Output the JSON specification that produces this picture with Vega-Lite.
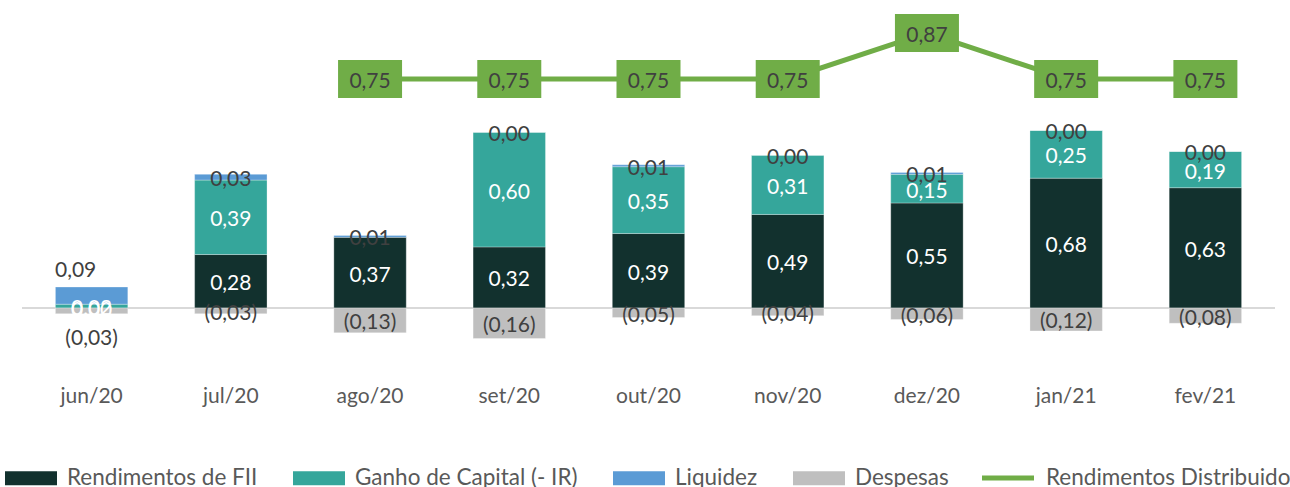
{
  "$schema": "https://vega.github.io/schema/vega-lite/v6.json",
  "width": 1253,
  "height": 384,
  "padding": {"left": 5, "top": 0, "right": 0, "bottom": 0},
  "background": "white",
  "config": {
    "view": {"stroke": null},
    "font": "Lato",
    "locale": {"number": {"decimal": ",", "thousands": ".", "grouping": [3], "currency": ["R$", ""]}}
  },
  "data": {
    "values": [
      {"mes": "jun/20", "serie": "Rendimentos de FII", "ordem": 1, "valor": 0.00},
      {"mes": "jun/20", "serie": "Ganho de Capital (- IR)", "ordem": 2, "valor": 0.02},
      {"mes": "jun/20", "serie": "Liquidez", "ordem": 3, "valor": 0.09},
      {"mes": "jun/20", "serie": "Despesas", "ordem": 4, "valor": -0.03},
      {"mes": "jul/20", "serie": "Rendimentos de FII", "ordem": 1, "valor": 0.28},
      {"mes": "jul/20", "serie": "Ganho de Capital (- IR)", "ordem": 2, "valor": 0.39},
      {"mes": "jul/20", "serie": "Liquidez", "ordem": 3, "valor": 0.03},
      {"mes": "jul/20", "serie": "Despesas", "ordem": 4, "valor": -0.03},
      {"mes": "ago/20", "serie": "Rendimentos de FII", "ordem": 1, "valor": 0.37},
      {"mes": "ago/20", "serie": "Liquidez", "ordem": 3, "valor": 0.01},
      {"mes": "ago/20", "serie": "Despesas", "ordem": 4, "valor": -0.13},
      {"mes": "set/20", "serie": "Rendimentos de FII", "ordem": 1, "valor": 0.32},
      {"mes": "set/20", "serie": "Ganho de Capital (- IR)", "ordem": 2, "valor": 0.60},
      {"mes": "set/20", "serie": "Liquidez", "ordem": 3, "valor": 0.00},
      {"mes": "set/20", "serie": "Despesas", "ordem": 4, "valor": -0.16},
      {"mes": "out/20", "serie": "Rendimentos de FII", "ordem": 1, "valor": 0.39},
      {"mes": "out/20", "serie": "Ganho de Capital (- IR)", "ordem": 2, "valor": 0.35},
      {"mes": "out/20", "serie": "Liquidez", "ordem": 3, "valor": 0.01},
      {"mes": "out/20", "serie": "Despesas", "ordem": 4, "valor": -0.05},
      {"mes": "nov/20", "serie": "Rendimentos de FII", "ordem": 1, "valor": 0.49},
      {"mes": "nov/20", "serie": "Ganho de Capital (- IR)", "ordem": 2, "valor": 0.31},
      {"mes": "nov/20", "serie": "Liquidez", "ordem": 3, "valor": 0.00},
      {"mes": "nov/20", "serie": "Despesas", "ordem": 4, "valor": -0.04},
      {"mes": "dez/20", "serie": "Rendimentos de FII", "ordem": 1, "valor": 0.55},
      {"mes": "dez/20", "serie": "Ganho de Capital (- IR)", "ordem": 2, "valor": 0.15},
      {"mes": "dez/20", "serie": "Liquidez", "ordem": 3, "valor": 0.01},
      {"mes": "dez/20", "serie": "Despesas", "ordem": 4, "valor": -0.06},
      {"mes": "jan/21", "serie": "Rendimentos de FII", "ordem": 1, "valor": 0.68},
      {"mes": "jan/21", "serie": "Ganho de Capital (- IR)", "ordem": 2, "valor": 0.25},
      {"mes": "jan/21", "serie": "Liquidez", "ordem": 3, "valor": 0.00},
      {"mes": "jan/21", "serie": "Despesas", "ordem": 4, "valor": -0.12},
      {"mes": "fev/21", "serie": "Rendimentos de FII", "ordem": 1, "valor": 0.63},
      {"mes": "fev/21", "serie": "Ganho de Capital (- IR)", "ordem": 2, "valor": 0.19},
      {"mes": "fev/21", "serie": "Liquidez", "ordem": 3, "valor": 0.00},
      {"mes": "fev/21", "serie": "Despesas", "ordem": 4, "valor": -0.08},
      {"mes": "ago/20", "serie": "Rendimentos Distribuido", "ordem": 5, "valor": 0.75},
      {"mes": "set/20", "serie": "Rendimentos Distribuido", "ordem": 5, "valor": 0.75},
      {"mes": "out/20", "serie": "Rendimentos Distribuido", "ordem": 5, "valor": 0.75},
      {"mes": "nov/20", "serie": "Rendimentos Distribuido", "ordem": 5, "valor": 0.75},
      {"mes": "dez/20", "serie": "Rendimentos Distribuido", "ordem": 5, "valor": 0.87},
      {"mes": "jan/21", "serie": "Rendimentos Distribuido", "ordem": 5, "valor": 0.75},
      {"mes": "fev/21", "serie": "Rendimentos Distribuido", "ordem": 5, "valor": 0.75}
    ]
  },
  "encoding": {
    "x": {
      "field": "mes", "type": "nominal",
      "sort": ["jun/20", "jul/20", "ago/20", "set/20", "out/20", "nov/20", "dez/20", "jan/21", "fev/21"],
      "scale": {"paddingInner": 0.48, "paddingOuter": 0.24},
      "axis": {"title": null, "domain": false, "ticks": false, "labelAngle": 0, "labelFont": "Lato", "labelFontSize": 21, "labelColor": "#595959", "labelPadding": 1}
    }
  },
  "layer": [
    {
      "transform": [{"filter": "datum.serie !== 'Rendimentos Distribuido'"}],
      "encoding": {
        "y": {"field": "valor", "type": "quantitative", "stack": "zero", "scale": {"domain": [-0.398, 1.613], "nice": false, "zero": false}, "axis": null},
        "order": {"field": "ordem", "type": "quantitative", "sort": "ascending"}
      },
      "layer": [
        {
          "mark": {"type": "rule", "color": "#D9D9D9", "strokeWidth": 2},
          "encoding": {"y": {"datum": 0}, "x": null, "order": null}
        },
        {
          "mark": {"type": "bar", "stroke": "white", "strokeWidth": 0.5, "strokeOpacity": 0.6},
          "encoding": {
            "color": {
              "field": "serie", "type": "nominal",
              "scale": {
                "domain": ["Rendimentos de FII", "Ganho de Capital (- IR)", "Liquidez", "Despesas"],
                "range": ["#12312E", "#35A69B", "#5B9BD5", "#BFBFBF"]
              },
              "legend": {
                "title": null, "orient": "none", "legendX": -17, "legendY": 452, "direction": "horizontal", "padding": 0,
                "symbolType": "M-1,-0.27L1,-0.27L1,0.27L-1,0.27Z", "symbolSize": 2704, "symbolStrokeWidth": 0,
                "labelFont": "Lato", "labelFontSize": 22.5, "labelColor": "#595959", "labelOffset": 10, "columnPadding": 35,
                "labelLimit": 400
              }
            }
          }
        },
        {
          "mark": {"type": "text", "font": "Lato", "fontSize": 21, "baseline": "middle", "dy": 3},
          "encoding": {
            "y": {"field": "valor", "type": "quantitative", "stack": "zero", "bandPosition": 0.5},
            "detail": {"field": "serie"},
            "color": {"condition": {"test": "datum.serie === 'Rendimentos de FII' || datum.serie === 'Ganho de Capital (- IR)'", "value": "white"}, "value": "#404040"},
            "text": {"condition": {"test": "datum.mes === 'jun/20' && (datum.serie === 'Liquidez' || datum.serie === 'Despesas')", "value": ""}, "field": "valor", "type": "quantitative", "format": "(.2f"}
          }
        },
        {
          "mark": {"type": "text", "font": "Lato", "fontSize": 21, "baseline": "middle", "color": "#404040", "dx": -16, "dy": -25},
          "encoding": {
            "y": {"field": "valor", "type": "quantitative", "stack": "zero", "bandPosition": 0.5},
            "detail": {"field": "serie"},
            "text": {"condition": {"test": "!(datum.mes === 'jun/20' && datum.serie === 'Liquidez')", "value": ""}, "field": "valor", "type": "quantitative", "format": "(.2f"}
          }
        },
        {
          "mark": {"type": "text", "font": "Lato", "fontSize": 21, "baseline": "middle", "color": "#404040", "dy": 28},
          "encoding": {
            "y": {"field": "valor", "type": "quantitative", "stack": "zero", "bandPosition": 0.5},
            "detail": {"field": "serie"},
            "text": {"condition": {"test": "!(datum.mes === 'jun/20' && datum.serie === 'Despesas')", "value": ""}, "field": "valor", "type": "quantitative", "format": "(.2f"}
          }
        }
      ]
    },
    {
      "transform": [{"filter": "datum.serie === 'Rendimentos Distribuido'"}],
      "encoding": {
        "y": {"field": "valor", "type": "quantitative", "scale": {"domain": [-0.046, 0.956], "nice": false, "zero": false}, "axis": null}
      },
      "layer": [
        {
          "mark": {"type": "line", "strokeWidth": 5},
          "encoding": {
            "stroke": {
              "field": "serie", "type": "nominal",
              "scale": {"domain": ["Rendimentos Distribuido"], "range": ["#70AD47"]},
              "legend": {
                "title": null, "orient": "none", "legendX": 960, "legendY": 452, "direction": "horizontal", "padding": 0,
                "symbolType": "M-1,-0.1L1,-0.1L1,0.1L-1,0.1Z", "symbolSize": 2704, "symbolStrokeWidth": 0, "symbolFillColor": "#70AD47",
                "labelFont": "Lato", "labelFontSize": 22.5, "labelColor": "#595959", "labelOffset": 12,
                "labelLimit": 400
              }
            }
          }
        },
        {
          "mark": {"type": "point", "shape": "M-1,-0.594L1,-0.594L1,0.594L-1,0.594Z", "size": 4096, "filled": true, "opacity": 1, "color": "#70AD47", "strokeWidth": 0},
          "encoding": {}
        },
        {
          "mark": {"type": "text", "color": "#404040", "font": "Lato", "fontSize": 21, "baseline": "middle", "dy": 3},
          "encoding": {"text": {"field": "valor", "type": "quantitative", "format": "(.2f"}}
        }
      ]
    }
  ],
  "resolve": {"scale": {"y": "independent"}}
}
